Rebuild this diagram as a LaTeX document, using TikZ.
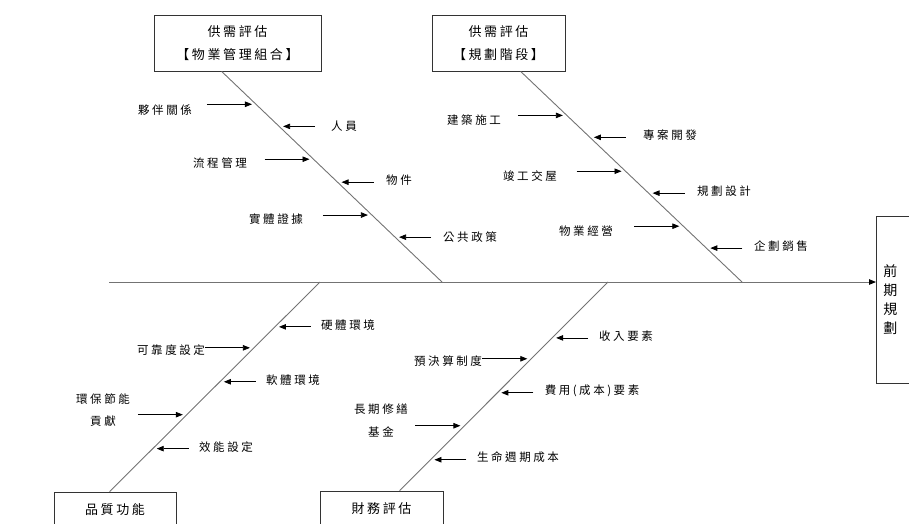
\documentclass[tikz,border=0pt]{standalone}
\usepackage{fontspec}
\newfontfamily\cjk[LetterSpace=22]{Noto Sans CJK TC}
\newfontfamily\cjkbox[LetterSpace=20]{Noto Sans CJK TC}
\newfontfamily\cjkplain{Noto Sans CJK TC}
\usetikzlibrary{arrows.meta,calc}
\newcommand\fishR[3]{\draw[sub] ($(#1)!#3!(#2)+(-49,0)$) -- ($(#1)!#3!(#2)$);}
\newcommand\fishL[3]{\draw[sub] ($(#1)!#3!(#2)+(36,0)$) -- ($(#1)!#3!(#2)$);}
\begin{document}
\begin{tikzpicture}[x=1pt,y=-1pt,
  bone/.style={draw=black!55,line width=0.9pt},
  sub/.style={draw=black,line width=0.8pt,shorten >=4pt,-{Triangle[length=7pt,width=5.5pt]}},
  lbl/.style={inner sep=0pt,align=center,font=\cjk\fontsize{11.5}{22.5}\selectfont},
  cbox/.style={draw=black!80,line width=0.8pt,inner sep=0pt,align=center,font=\cjkbox\fontsize{13}{23}\selectfont}]
\useasboundingbox (0,0) rectangle (909,523);

% category boxes
\node[cbox,minimum width=167pt,minimum height=56pt] (b1) at (237.5,43) {供需評估\\【物業管理組合】};
\node[cbox,minimum width=133pt,minimum height=56pt] (b2) at (498.5,43) {供需評估\\【規劃階段】};
\node[cbox,minimum width=122pt,minimum height=36pt] (b3) at (115,510) {品質功能};
\node[cbox,minimum width=123pt,minimum height=36pt] (b4) at (381.5,509) {財務評估};
% effect box
\node[draw=black!80,line width=0.8pt,inner xsep=7pt,inner ysep=0pt,text width=50pt,align=left,
      minimum height=167pt,anchor=west,font=\cjkplain\fontsize{14}{19}\selectfont] (eff) at (876,299.5) {前\\期\\規\\劃};

% spine
\coordinate (S0) at (109,282);
\draw[bone,-{Triangle[length=7pt,width=5.5pt,color=black]}] (S0) -- (S0 -| eff.west);

% bones
\coordinate (T1) at ([xshift=68pt]b1.south west);
\coordinate (H1) at (442,282);
\coordinate (T2) at ([xshift=89pt]b2.south west);
\coordinate (H2) at (742,282);
\coordinate (S3) at (320,282);
\coordinate (B3) at ([xshift=56pt]b3.north west);
\coordinate (S4) at (608,282);
\coordinate (B4) at ([xshift=80pt]b4.north west);
\draw[bone] (T1) -- (H1);
\draw[bone] (T2) -- (H2);
\draw[bone] (S3) -- (B3);
\draw[bone] (S4) -- (B4);

% bone 1 causes
\node[lbl] (l11) at (165,110) {夥伴關係};
\node[lbl] (l12) at (344,126) {人員};
\node[lbl] (l13) at (220,163) {流程管理};
\node[lbl] (l14) at (399,180) {物件};
\node[lbl] (l15) at (276,219) {實體證據};
\node[lbl] (l16) at (470,237) {公共政策};
\fishR{T1}{H1}{0.156}
\fishL{T1}{H1}{0.261}
\fishR{T1}{H1}{0.417}
\fishL{T1}{H1}{0.526}
\fishR{T1}{H1}{0.682}
\fishL{T1}{H1}{0.787}

% bone 2 causes
\node[lbl] (l21) at (474,120) {建築施工};
\node[lbl] (l22) at (670,135) {專案開發};
\node[lbl] (l23) at (530,176) {竣工交屋};
\node[lbl] (l24) at (724,191) {規劃設計};
\node[lbl] (l25) at (586,231) {物業經營};
\node[lbl] (l26) at (781,246) {企劃銷售};
\fishR{T2}{H2}{0.209}
\fishL{T2}{H2}{0.313}
\fishR{T2}{H2}{0.474}
\fishL{T2}{H2}{0.578}
\fishR{T2}{H2}{0.735}
\fishL{T2}{H2}{0.839}

% bone 3 causes
\node[lbl] (l31) at (348,325) {硬體環境};
\node[lbl] (l32) at (171,350) {可靠度設定};
\node[lbl] (l33) at (293,380) {軟體環境};
\node[lbl] (l34) at (103,410) {環保節能\\貢獻};
\node[lbl] (l35) at (226,447) {效能設定};
\fishL{S3}{B3}{0.214}
\fishR{S3}{B3}{0.314}
\fishL{S3}{B3}{0.476}
\fishR{S3}{B3}{0.633}
\fishL{S3}{B3}{0.795}

% bone 4 causes
\node[lbl] (l41) at (626,336) {收入要素};
\node[lbl] (l42) at (448,361) {預決算制度};
\node[lbl] (l43) at (592,391) {費用(成本)要素};
\node[lbl] (l44) at (381,420.5) {長期修繕\\基金};
\node[lbl] (l45) at (518,457) {生命週期成本};
\fishL{S4}{B4}{0.268}
\fishR{S4}{B4}{0.368}
\fishL{S4}{B4}{0.531}
\fishR{S4}{B4}{0.689}
\fishL{S4}{B4}{0.852}
\end{tikzpicture}
\end{document}
